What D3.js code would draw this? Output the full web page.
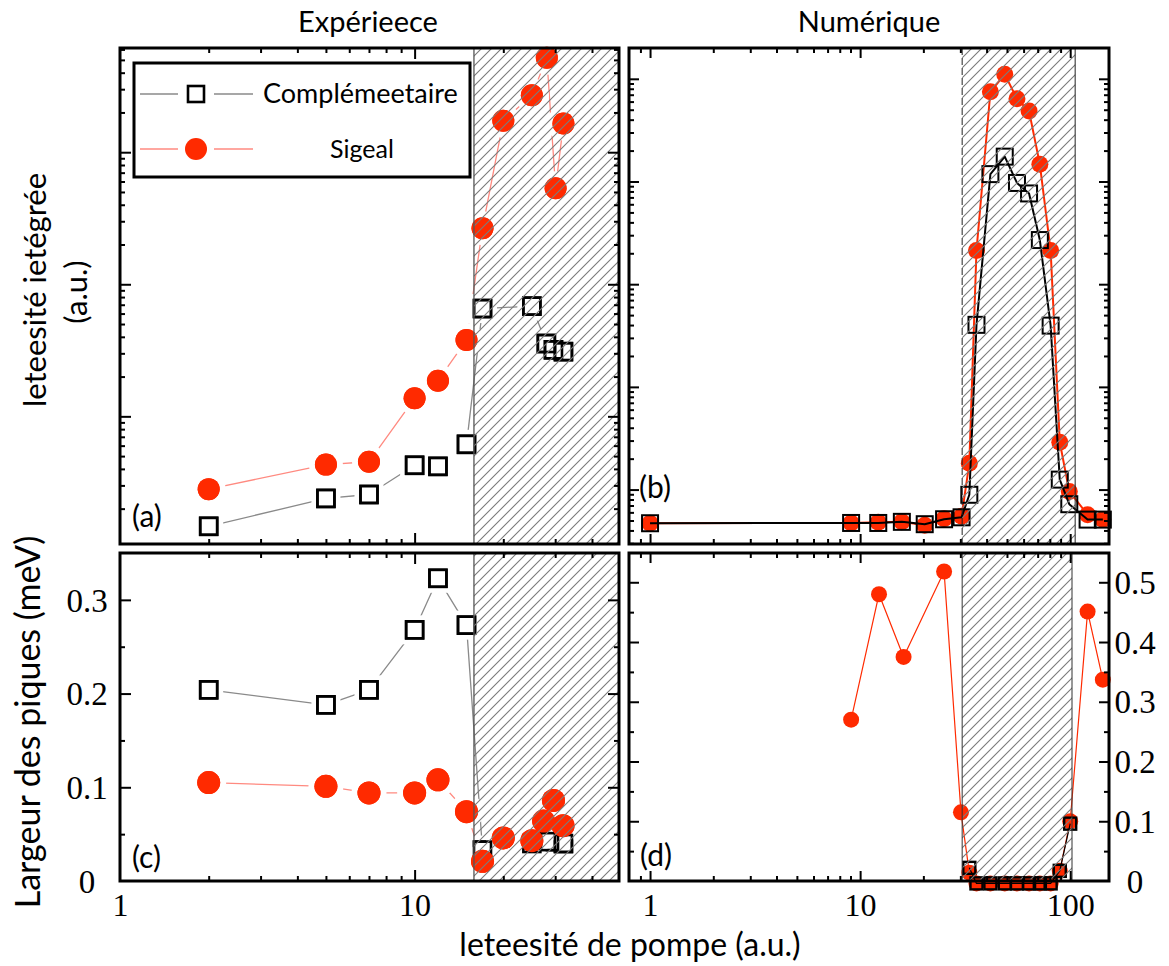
<!DOCTYPE html>
<html><head><meta charset="utf-8">
<script src="https://cdn.jsdelivr.net/npm/d3@7"></script>
<style>html,body{margin:0;padding:0;background:#fff}svg{display:block}</style>
</head><body>
<script>
// ---------------- DATA ----------------
// Expérience (a): integrated intensity
const expCompX = [2, 5, 7, 10, 12, 15, 17, 25, 28, 29.6, 32];
const expCompIntensity = [1.47, 2.39, 2.56, 4.26, 4.18, 6.14, 65.5, 68.3, 35.6, 31.9, 30.9];
const expSigX = [2, 5, 7, 10, 12, 15, 17, 20, 25, 28.1, 30.1, 32];
const expSigIntensity = [2.81, 4.31, 4.53, 13.7, 18.6, 37.8, 266, 1730, 2703, 5190, 533, 1648];
// Expérience (c): peak width (meV)
const expCompWidthX = [2, 5, 7, 10, 12, 15, 17, 25, 28.7, 32];
const expCompWidth = [0.204, 0.188, 0.204, 0.268, 0.323, 0.273, 0.033, 0.040, 0.042, 0.040];
const expSigWidthX = [2, 5, 7, 10, 12, 15, 17, 20, 25, 27.4, 29.6, 31.9];
const expSigWidth = [0.105, 0.101, 0.094, 0.094, 0.108, 0.074, 0.021, 0.046, 0.043, 0.064, 0.086, 0.059];
// Numérique (b): integrated intensity
const numX = [1, 9.06, 12.2, 15.8, 20.3, 25.1, 30.4, 33.1, 35.8, 41.7, 48.8, 55.8, 63.7, 71.7, 80.7, 89.2, 99, 121, 143];
const numCompIntensity = [4.7, 4.73, 4.73, 4.85, 4.6, 5.14, 5.37, 8.9, 402, 11800, 17460, 9680, 7650, 2690, 395, 12.5, 7.2, 5.1, 5.1];
const numSigIntensity = [4.7, 4.73, 4.8, 4.85, 4.5, 5.2, 5.5, 18.0, 2128, 74800, 110700, 63800, 48500, 14700, 2128, 28.9, 9.6, 5.7, 5.1];
// Numérique (d): peak width (meV)
const numSigWidthX = [9.06, 12.3, 16.1, 25.1, 30.2, 33.1, 35.8, 41.7, 48.8, 55.8, 63.7, 71.7, 80.7, 89.2, 100, 121, 143];
const numSigWidth = [0.270, 0.480, 0.375, 0.518, 0.115, 0.014, -0.004, -0.004, -0.004, -0.004, -0.004, -0.004, -0.004, 0.017, 0.100, 0.451, 0.337];
const numCompWidthX = [33.1, 35.8, 41.7, 48.8, 55.8, 63.7, 71.7, 80.7, 89.2, 100];
const numCompWidth = [0.022, -0.004, -0.004, -0.004, -0.004, -0.004, -0.004, -0.004, 0.017, 0.096];
// shaded (lasing) regions
const expLasingStart = 15.9;
const numLasingRangeTop = [30.6, 105.6];
const numLasingRangeBottom = [30.6, 102];
// ticks & labels
const expXLabels = [1, 10];
const numXLabels = [1, 10, 100];
const expWidthLabels = [0, 0.1, 0.2, 0.3];
const numWidthLabels = [0, 0.1, 0.2, 0.3, 0.4, 0.5];
const expWidthMinor = [0.05, 0.15, 0.25];
const numWidthMinor = [0.05, 0.15, 0.25, 0.35, 0.45];
const logSub = [2, 3, 4, 5, 6, 7, 8, 9];
const titles = ["Expérieece", "Numérique"];
const legendNames = ["Complémeetaire", "Sigeal"];
const yLabelTop = ["leteesité ietégrée", "(a.u.)"];
const yLabelBottom = "Largeur des piques (meV)";
const xLabel = "leteesité de pompe (a.u.)";
const panelTags = ["(a)", "(b)", "(c)", "(d)"];

// ---------------- LAYOUT ----------------
const W = 1169, H = 966;
const SANS = "Lato, 'Open Sans', sans-serif";
const SERIF = "'Liberation Serif', 'DejaVu Serif', serif";
const RED = "#ff2a00";
const exL = 120, exR = 619, nuL = 629, nuR = 1109;
const tT = 48, tB = 544, bT = 553, bB = 881;

const svg = d3.select("body").append("svg").attr("width", W).attr("height", H);
const defs = svg.append("defs");
const pat = defs.append("pattern").attr("id", "hatch").attr("patternUnits", "userSpaceOnUse")
  .attr("width", 10).attr("height", 10);
pat.append("path").attr("d", "M-2,2 L2,-2 M0,10 L10,0 M8,12 L12,8")
  .attr("stroke", "#7a7a7a").attr("stroke-width", 1.1);

const xExp = d3.scaleLog().domain([1, 49.4]).range([exL, exR]);
const xNum = d3.scaleLog().domain([0.794, 153]).range([nuL, nuR]);
const yA = d3.scaleLog().domain([Math.pow(10, 0.0334), Math.pow(10, 3.789)]).range([tB, tT]);
const yB = d3.scaleLog().domain([Math.pow(10, 0.47), Math.pow(10, 5.30)]).range([tB, tT]);
const yC = d3.scaleLinear().domain([0, 0.35]).range([bB, bT]);
const yD = d3.scaleLinear().domain([0, 0.549]).range([bB, bT]);

function logTicks(dom, majors) {
  const lo = dom[0], hi = dom[1];
  const minors = [];
  for (let e = Math.floor(Math.log10(lo)) - 1; e <= Math.ceil(Math.log10(hi)); e++) {
    logSub.forEach(s => { const v = s * Math.pow(10, e); if (v > lo * 1.01 && v < hi * 0.99) minors.push(v); });
  }
  const maj = [];
  for (let e = Math.floor(Math.log10(lo)); e <= Math.ceil(Math.log10(hi)); e++) {
    const v = Math.pow(10, e); if (v > lo * 1.01 && v < hi * 0.99) maj.push(v);
  }
  return { minors, maj: majors || maj };
}

function styleAxis(g) {
  g.select(".domain").remove();
  g.selectAll(".tick line").attr("stroke", "#000").attr("stroke-width", 2);
}

function ticksAll(x, y, x0, x1, y0, y1, xt, yt, L) {
  const g = svg.append("g");
  const lens = [[xt.maj, L.maj], [xt.minors, L.min]];
  lens.forEach(([vals, len]) => {
    g.append("g").attr("transform", `translate(0,${y1})`).call(d3.axisBottom(x).tickValues(vals).tickSize(-len).tickFormat("")).call(styleAxis);
    g.append("g").attr("transform", `translate(0,${y0})`).call(d3.axisTop(x).tickValues(vals).tickSize(-len).tickFormat("")).call(styleAxis);
  });
  [[yt.maj, L.maj], [yt.minors, L.min]].forEach(([vals, len]) => {
    g.append("g").attr("transform", `translate(${x0},0)`).call(d3.axisLeft(y).tickValues(vals).tickSize(-len).tickFormat("")).call(styleAxis);
    g.append("g").attr("transform", `translate(${x1},0)`).call(d3.axisRight(y).tickValues(vals).tickSize(-len).tickFormat("")).call(styleAxis);
  });
}

function frame(x0, y0, x1, y1) {
  svg.append("rect").attr("x", x0).attr("y", y0).attr("width", x1 - x0).attr("height", y1 - y0)
    .attr("fill", "none").attr("stroke", "#000").attr("stroke-width", 3);
}

function hatchRect(x0, x1, y0, y1) {
  svg.append("rect").attr("x", x0).attr("y", y0).attr("width", x1 - x0).attr("height", y1 - y0)
    .attr("fill", "url(#hatch)");
}

function pts(xs, ys) { return xs.map((v, i) => [v, ys[i]]); }

function drawLine(data, x, y, color, w) {
  svg.append("path").datum(data).attr("fill", "none").attr("stroke", color).attr("stroke-width", w)
    .attr("stroke-linejoin", "round")
    .attr("d", d3.line().x(d => x(d[0])).y(d => y(d[1])));
}
function drawSquares(data, x, y, s, sw, fill, halo) {
  const g = svg.append("g");
  if (halo) g.selectAll("rect.h").data(data).join("rect").attr("class", "h")
    .attr("x", d => x(d[0]) - s / 2 - halo).attr("y", d => y(d[1]) - s / 2 - halo)
    .attr("width", s + 2 * halo).attr("height", s + 2 * halo).attr("fill", "#fff");
  g.selectAll("rect.m").data(data).join("rect").attr("class", "m")
    .attr("x", d => x(d[0]) - s / 2).attr("y", d => y(d[1]) - s / 2)
    .attr("width", s).attr("height", s).attr("fill", fill).attr("stroke", "#000").attr("stroke-width", sw);
}
function drawCircles(data, x, y, r, halo) {
  const g = svg.append("g");
  if (halo) g.selectAll("circle.h").data(data).join("circle").attr("class", "h")
    .attr("cx", d => x(d[0])).attr("cy", d => y(d[1])).attr("r", r + halo).attr("fill", "#fff");
  g.selectAll("circle.m").data(data).join("circle").attr("class", "m")
    .attr("cx", d => x(d[0])).attr("cy", d => y(d[1])).attr("r", r).attr("fill", RED);
}

// ---------------- PANEL (a) ----------------
{
  const comp = pts(expCompX, expCompIntensity), sig = pts(expSigX, expSigIntensity);
  drawLine(comp, xExp, yA, "#8a8a8a", 1.3);
  drawLine(sig, xExp, yA, "#ff8a80", 1.3);
  drawSquares(comp, xExp, yA, 17, 2.6, "#fff", 6);
  drawCircles(sig, xExp, yA, 11, 6);
  drawSquares(comp, xExp, yA, 17, 2.6, "none", 0);
  drawCircles(sig, xExp, yA, 11, 0);
  const hx = xExp(expLasingStart);
  hatchRect(hx, exR, tT, tB);
  svg.append("line").attr("x1", hx).attr("x2", hx).attr("y1", tT).attr("y2", tB).attr("stroke", "#555").attr("stroke-width", 1.3);
  const lx = logTicks(xExp.domain(), [10]), ly = logTicks(yA.domain());
  ticksAll(xExp, yA, exL, exR, tT, tB, lx, ly, { maj: 11, min: 5 });
  frame(exL, tT, exR, tB);
  // legend
  const lg = svg.append("g");
  lg.append("rect").attr("x", 134).attr("y", 63).attr("width", 336).attr("height", 114)
    .attr("fill", "#fff").attr("stroke", "#000").attr("stroke-width", 3);
  const rows = [{ y: 94, col: "#8a8a8a", type: "sq" }, { y: 149, col: "#ff8a80", type: "c" }];
  rows.forEach(r => {
    lg.append("line").attr("x1", 140).attr("x2", 178).attr("y1", r.y).attr("y2", r.y).attr("stroke", r.col).attr("stroke-width", 1.5);
    lg.append("line").attr("x1", 214).attr("x2", 253).attr("y1", r.y).attr("y2", r.y).attr("stroke", r.col).attr("stroke-width", 1.5);
    if (r.type === "sq") lg.append("rect").attr("x", 196 - 8).attr("y", r.y - 8).attr("width", 16).attr("height", 16)
      .attr("fill", "#fff").attr("stroke", "#000").attr("stroke-width", 2.6);
    else lg.append("circle").attr("cx", 196).attr("cy", r.y).attr("r", 11).attr("fill", RED);
  });
  lg.append("text").attr("x", 263).attr("y", 103).attr("font-family", SANS).attr("font-size", 27).text(legendNames[0]);
  lg.append("text").attr("x", 362).attr("y", 158).attr("text-anchor", "middle").attr("font-family", SANS).attr("font-size", 25).text(legendNames[1]);
}

// ---------------- PANEL (b) ----------------
{
  const comp = pts(numX, numCompIntensity), sig = pts(numX, numSigIntensity);
  drawLine(sig, xNum, yB, RED, 2);
  drawCircles(sig, xNum, yB, 8.5, 0);
  drawLine(comp, xNum, yB, "#000", 2);
  drawSquares(comp, xNum, yB, 16, 2, "none", 0);
  const h0 = xNum(numLasingRangeTop[0]), h1 = xNum(numLasingRangeTop[1]);
  hatchRect(h0, h1, tT, tB);
  svg.append("line").attr("x1", h0).attr("x2", h0).attr("y1", tT).attr("y2", tB).attr("stroke", "#222").attr("stroke-width", 1).attr("stroke-dasharray", "7,3");
  svg.append("line").attr("x1", h1).attr("x2", h1).attr("y1", tT).attr("y2", tB).attr("stroke", "#222").attr("stroke-width", 1);
  const lx = logTicks(xNum.domain(), [1, 10, 100]), ly = logTicks(yB.domain());
  ticksAll(xNum, yB, nuL, nuR, tT, tB, lx, ly, { maj: 10, min: 5 });
  frame(nuL, tT, nuR, tB);
}

// ---------------- PANEL (c) ----------------
{
  const comp = pts(expCompWidthX, expCompWidth), sig = pts(expSigWidthX, expSigWidth);
  drawLine(comp, xExp, yC, "#8a8a8a", 1.3);
  drawLine(sig, xExp, yC, "#ff8a80", 1.3);
  drawSquares(comp, xExp, yC, 17, 2.6, "#fff", 6);
  drawCircles(sig, xExp, yC, 11.5, 6);
  drawSquares(comp, xExp, yC, 17, 2.6, "none", 0);
  drawCircles(sig, xExp, yC, 11.5, 0);
  const hx = xExp(expLasingStart);
  hatchRect(hx, exR, bT, bB);
  svg.append("line").attr("x1", hx).attr("x2", hx).attr("y1", bT).attr("y2", bB).attr("stroke", "#555").attr("stroke-width", 1.3);
  const lx = logTicks(xExp.domain(), [10]);
  ticksAll(xExp, yC, exL, exR, bT, bB, lx, { maj: [0.1, 0.2, 0.3], minors: expWidthMinor }, { maj: 11, min: 5 });
  frame(exL, bT, exR, bB);
  const ay = svg.append("g").attr("transform", `translate(${exL},0)`)
    .call(d3.axisLeft(yC).tickValues(expWidthLabels).tickSize(0).tickFormat(d => d === 0 ? "0" : d3.format(".1f")(d)));
  ay.select(".domain").remove();
  ay.selectAll("text").attr("x", -33).attr("dy", "0.34em").attr("text-anchor", "middle")
    .attr("font-family", SERIF).attr("font-size", 33).attr("fill", "#000");
  const ax = svg.append("g").attr("transform", `translate(0,${bB})`)
    .call(d3.axisBottom(xExp).tickValues(expXLabels).tickSize(0).tickFormat(d3.format("d")));
  ax.select(".domain").remove();
  ax.selectAll("text").attr("y", 35).attr("dy", 0).attr("font-family", SERIF).attr("font-size", 32).attr("fill", "#000");
}

// ---------------- PANEL (d) ----------------
{
  const comp = pts(numCompWidthX, numCompWidth), sig = pts(numSigWidthX, numSigWidth);
  drawLine(sig, xNum, yD, RED, 1.2);
  drawCircles(sig, xNum, yD, 8, 0);
  drawLine(comp, xNum, yD, "#000", 1.2);
  drawSquares(comp, xNum, yD, 12, 2.4, "none", 0);
  const h0 = xNum(numLasingRangeBottom[0]), h1 = xNum(numLasingRangeBottom[1]);
  hatchRect(h0, h1, bT, bB);
  [h0, h1].forEach(h => svg.append("line").attr("x1", h).attr("x2", h).attr("y1", bT).attr("y2", bB).attr("stroke", "#333").attr("stroke-width", 1));
  const lx = logTicks(xNum.domain(), [1, 10, 100]);
  ticksAll(xNum, yD, nuL, nuR, bT, bB, lx, { maj: [0.1, 0.2, 0.3, 0.4, 0.5], minors: numWidthMinor }, { maj: 10, min: 5 });
  frame(nuL, bT, nuR, bB);
  const ay = svg.append("g").attr("transform", `translate(${nuR},0)`)
    .call(d3.axisRight(yD).tickValues(numWidthLabels).tickSize(0).tickFormat(d => d === 0 ? "0" : d3.format(".1f")(d)));
  ay.select(".domain").remove();
  ay.selectAll("text").attr("x", 26).attr("dy", "0.34em").attr("text-anchor", "middle")
    .attr("font-family", SERIF).attr("font-size", 33).attr("fill", "#000");
  const ax = svg.append("g").attr("transform", `translate(0,${bB})`)
    .call(d3.axisBottom(xNum).tickValues(numXLabels).tickSize(0).tickFormat(d3.format("d")));
  ax.select(".domain").remove();
  ax.selectAll("text").attr("y", 35).attr("dy", 0).attr("font-family", SERIF).attr("font-size", 32).attr("fill", "#000");
}

// ---------------- TEXT ----------------
const txt = (x, y, s, size, anchor, rot) => {
  const t = svg.append("text").attr("font-family", SANS).attr("font-size", size)
    .attr("text-anchor", anchor || "middle").attr("fill", "#000").text(s);
  if (rot) t.attr("transform", `translate(${x},${y}) rotate(-90)`); else t.attr("x", x).attr("y", y);
  return t;
};
txt(368, 32, titles[0], 29);
txt(869, 32, titles[1], 29);
txt(46, 290, yLabelTop[0], 31, "middle", true);
txt(87, 292, yLabelTop[1], 31, "middle", true);
txt(40, 722, yLabelBottom, 34, "middle", true);
txt(630, 956, xLabel, 32);
txt(132, 527, panelTags[0], 30, "start");
txt(639, 498, panelTags[1], 30, "start");
txt(132, 868, panelTags[2], 30, "start");
txt(640, 866, panelTags[3], 30, "start");
</script>
</body></html>
